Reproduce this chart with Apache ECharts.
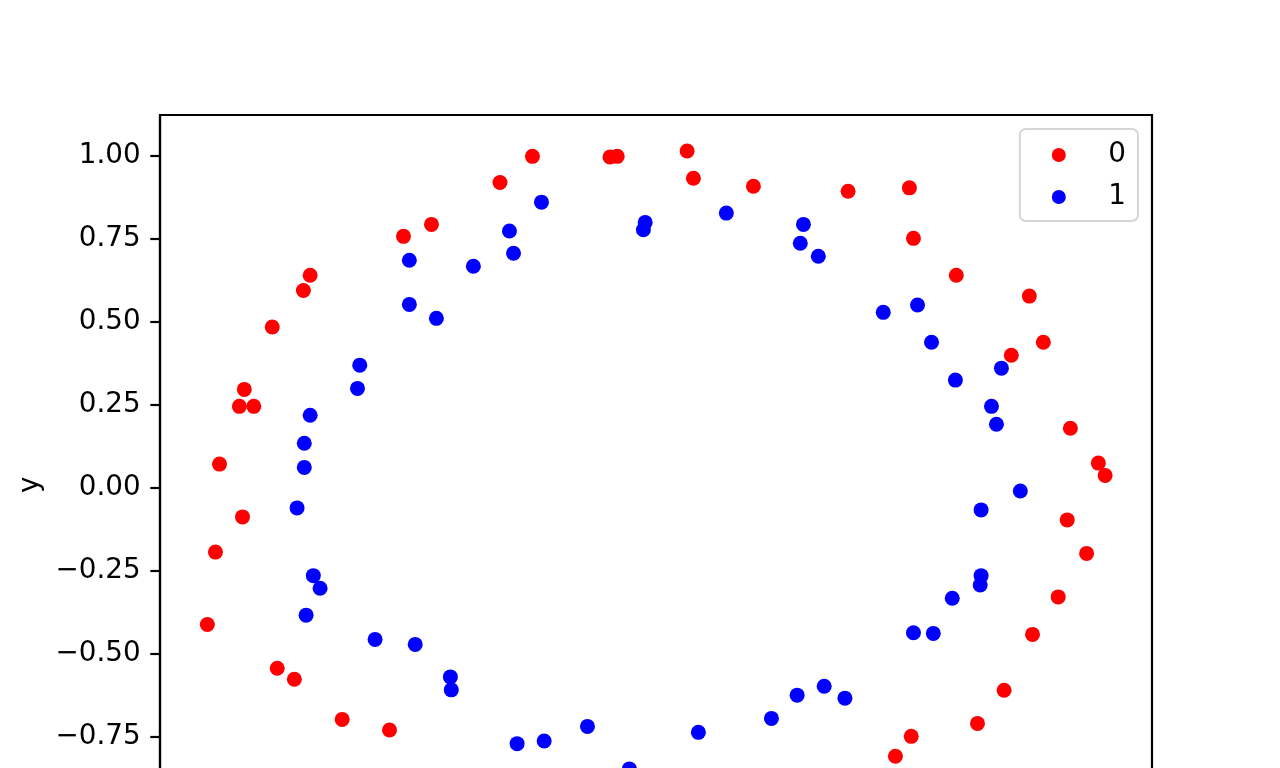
<!DOCTYPE html>
<html>
<head>
<meta charset="utf-8">
<script src="https://cdn.jsdelivr.net/npm/echarts@6/dist/echarts.min.js"></script>
<style>
html, body { margin: 0; padding: 0; background: #fff; overflow: hidden; width: 1280px; height: 768px; }
#chart { width: 1280px; height: 960px; }
</style>
</head>
<body>
<div id="chart"></div>
<script>
// Class 0 (red) points: [x, y]
const class0 = [
  [-0.346, 0.920], [-0.498, 0.794], [-0.560, 0.758], [-0.767, 0.641], [-0.782, 0.595],
  [-0.851, 0.485], [-0.274, 0.999], [-0.102, 0.997], [-0.086, 0.999], [0.069, 1.015],
  [0.083, 0.933], [0.216, 0.909], [0.426, 0.894], [0.562, 0.904], [0.571, 0.752],
  [0.666, 0.641], [0.828, 0.578], [0.859, 0.439], [0.788, 0.400], [0.919, 0.180],
  [0.981, 0.075], [0.996, 0.038], [0.912, -0.096], [0.955, -0.197], [0.892, -0.328],
  [0.835, -0.441], [0.772, -0.609], [0.713, -0.709], [0.566, -0.748], [0.531, -0.808],
  [-0.913, 0.297], [-0.924, 0.246], [-0.892, 0.246], [-0.968, 0.072], [-0.917, -0.087],
  [-0.977, -0.193], [-0.995, -0.411], [-0.840, -0.543], [-0.802, -0.576], [-0.696, -0.697],
  [-0.591, -0.729]
];
// Class 1 (blue) points: [x, y]
const class1 = [
  [-0.547, 0.686], [-0.405, 0.668], [-0.547, 0.553], [-0.487, 0.511], [-0.254, 0.861],
  [-0.325, 0.774], [-0.316, 0.707], [-0.024, 0.800], [-0.028, 0.778], [0.156, 0.828],
  [0.327, 0.794], [0.320, 0.737], [0.360, 0.698], [0.504, 0.529], [0.580, 0.551],
  [0.611, 0.439], [0.766, 0.361], [0.664, 0.325], [0.744, 0.246], [0.755, 0.192],
  [0.808, -0.009], [0.721, -0.066], [0.721, -0.264], [0.719, -0.292], [0.657, -0.332],
  [0.571, -0.436], [0.615, -0.438], [0.419, -0.633], [0.373, -0.597], [0.313, -0.624],
  [0.256, -0.694], [0.094, -0.736], [-0.059, -0.846], [-0.152, -0.718], [-0.248, -0.762],
  [-0.308, -0.770], [-0.456, -0.569], [-0.454, -0.608], [-0.534, -0.471], [-0.623, -0.456],
  [-0.776, -0.383], [-0.760, -0.264], [-0.745, -0.302], [-0.796, -0.060], [-0.780, 0.062],
  [-0.780, 0.135], [-0.767, 0.219], [-0.662, 0.300], [-0.657, 0.370]
];
const seriesNames = ['0', '1'];
const yTicks = [-1.0, -0.75, -0.5, -0.25, 0.0, 0.25, 0.5, 0.75, 1.0];
const xTicks = [-1.0, -0.5, 0.0, 0.5, 1.0];
const yRange = [-1.1036, 1.1235];
const xRange = [-1.1, 1.1];

const FONT = 'DejaVu Sans';
const FS = 27.8;
const fmt = (v) => v.toFixed(2).replace('-', '\u2212');
const fmtX = (v) => v.toFixed(1).replace('-', '\u2212');

const chart = echarts.init(document.getElementById('chart'), null, { renderer: 'canvas' });
chart.setOption({
  animation: false,
  backgroundColor: '#fff',
  grid: {
    left: 160, top: 115, width: 992, height: 739.4,
    show: true, borderColor: '#000', borderWidth: 2.2, backgroundColor: 'transparent'
  },
  xAxis: {
    type: 'value', min: xRange[0], max: xRange[1],
    axisLine: { show: true, onZero: false, lineStyle: { color: '#000', width: 2.2 } },
    axisTick: { show: true, length: 9.7, customValues: xTicks, lineStyle: { color: '#000', width: 2.2 } },
    axisLabel: { customValues: xTicks, formatter: fmtX, margin: 19.4, fontSize: FS, fontFamily: FONT, color: '#000' },
    splitLine: { show: false },
    name: 'x', nameLocation: 'middle', nameGap: 70,
    nameTextStyle: { fontSize: FS, fontFamily: FONT, color: '#000' }
  },
  yAxis: {
    type: 'value', min: yRange[0], max: yRange[1],
    axisLine: { show: true, onZero: false, lineStyle: { color: '#000', width: 2.2 } },
    axisTick: { show: true, length: 9.7, customValues: yTicks, lineStyle: { color: '#000', width: 2.2 } },
    axisLabel: { customValues: yTicks, formatter: fmt, margin: 19.4, fontSize: FS, fontFamily: FONT, color: '#000', padding: [4, 0, 0, 0] },
    splitLine: { show: false },
    name: 'y', nameLocation: 'middle', nameRotate: 90, nameGap: 112,
    nameTextStyle: { fontSize: FS, fontFamily: FONT, color: '#000' }
  },
  legend: {
    orient: 'vertical', right: 142, top: 129,
    data: seriesNames, icon: 'circle',
    itemWidth: 55, itemHeight: 14, itemGap: 14,
    padding: [12, 12, 10, 32],
    borderColor: '#d6d6d6', borderWidth: 2, borderRadius: 6,
    backgroundColor: 'rgba(255,255,255,0.8)',
    selectedMode: false,
    textStyle: { fontSize: FS, fontFamily: FONT, color: '#000', padding: [0, 0, 0, 17] }
  },
  series: [
    {
      name: seriesNames[0], type: 'scatter', data: class0,
      symbol: 'circle', symbolSize: 15,
      itemStyle: { color: '#ff0000', opacity: 1 },
      emphasis: { disabled: true }
    },
    {
      name: seriesNames[1], type: 'scatter', data: class1,
      symbol: 'circle', symbolSize: 15,
      itemStyle: { color: '#0000ff', opacity: 1 },
      emphasis: { disabled: true }
    }
  ]
});
</script>
</body>
</html>
